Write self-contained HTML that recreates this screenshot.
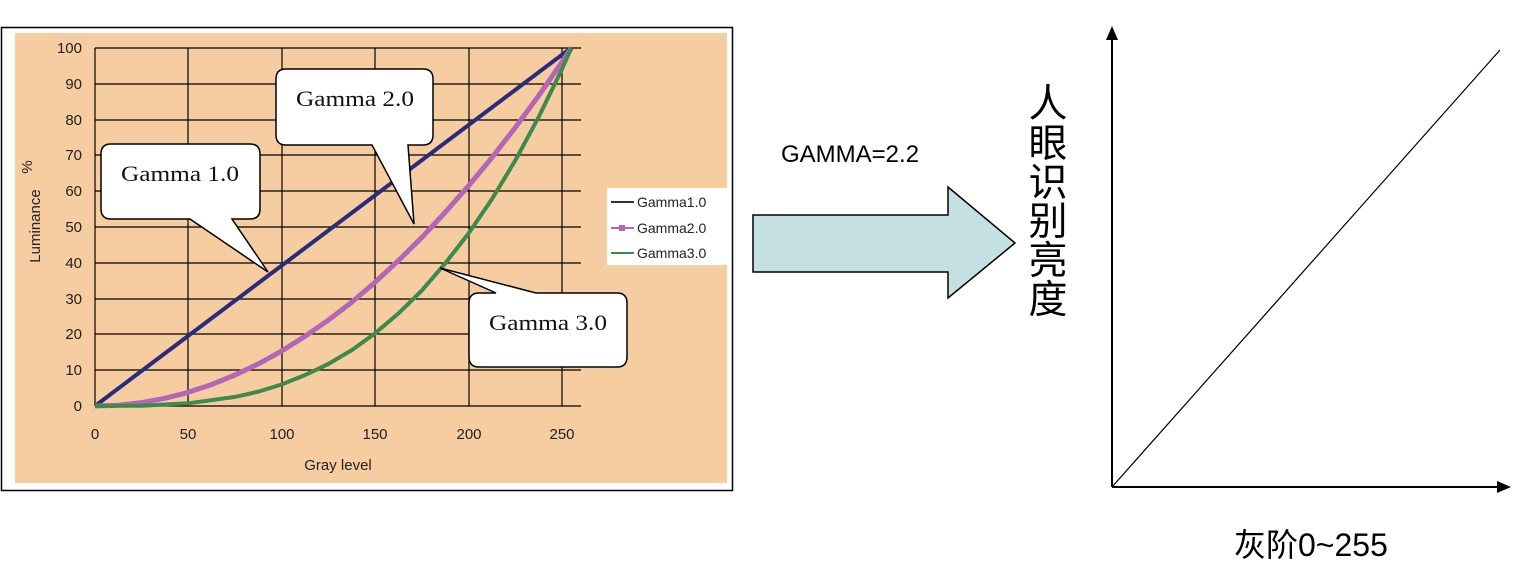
<!DOCTYPE html>
<html><head><meta charset="utf-8"><style>
html,body{margin:0;padding:0;background:#fff;}
svg{display:block;}
</style></head><body>
<svg width="1520" height="572" xmlns="http://www.w3.org/2000/svg">
<rect x="1.5" y="27.5" width="731" height="463" fill="#fff" stroke="#000" stroke-width="1.5"/>
<rect x="15" y="33" width="712" height="450" fill="#f5cda0"/>
<g stroke="#000" stroke-width="1.2">
<line x1="95" y1="48" x2="581" y2="48"/><line x1="95" y1="84" x2="581" y2="84"/><line x1="95" y1="120" x2="581" y2="120"/><line x1="95" y1="155" x2="581" y2="155"/><line x1="95" y1="191" x2="581" y2="191"/><line x1="95" y1="227" x2="581" y2="227"/><line x1="95" y1="263" x2="581" y2="263"/><line x1="95" y1="299" x2="581" y2="299"/><line x1="95" y1="334" x2="581" y2="334"/><line x1="95" y1="370" x2="581" y2="370"/><line x1="95" y1="406" x2="581" y2="406"/>
<line x1="95" y1="48" x2="95" y2="406"/><line x1="188" y1="48" x2="188" y2="406"/><line x1="282" y1="48" x2="282" y2="406"/><line x1="375" y1="48" x2="375" y2="406"/><line x1="469" y1="48" x2="469" y2="406"/><line x1="562" y1="48" x2="562" y2="406"/>
</g>
<g font-family="Liberation Sans, sans-serif" font-size="15" fill="#222" text-anchor="end">
<text x="82" y="53">100</text><text x="82" y="89">90</text><text x="82" y="125">80</text><text x="82" y="160">70</text><text x="82" y="196">60</text><text x="82" y="232">50</text><text x="82" y="268">40</text><text x="82" y="304">30</text><text x="82" y="339">20</text><text x="82" y="375">10</text><text x="82" y="411">0</text>
</g>
<g font-family="Liberation Sans, sans-serif" font-size="15" fill="#222" text-anchor="middle">
<text x="95" y="439">0</text><text x="188" y="439">50</text><text x="282" y="439">100</text><text x="375" y="439">150</text><text x="469" y="439">200</text><text x="562" y="439">250</text>
<text x="338" y="470">Gray level</text>
</g>
<text x="0" y="0" font-family="Liberation Sans, sans-serif" font-size="15" fill="#222" text-anchor="middle" transform="translate(40,226) rotate(-90)">Luminance</text>
<text x="0" y="0" font-family="Liberation Sans, sans-serif" font-size="15" fill="#222" text-anchor="middle" transform="translate(32,167) rotate(-90)">%</text>
<polyline fill="none" stroke="#2b2b7a" stroke-width="4" points="95,406 571,48"/>
<polyline fill="none" stroke="#b565b5" stroke-width="5" stroke-linejoin="round" points="95,406 118,405.2 141.7,402.6 165,398.3 188.4,392.3 211.7,384.5 235.1,375 258.5,363.8 281.8,350.9 305,336.3 328.5,320 352,302 375.2,282.1 398.5,260.5 421.9,237.4 445,212.5 468.6,185.8 492,157.5 515.3,127.5 538.7,95.7 562,62 571.3,48"/>
<polyline fill="none" stroke="#3d8a4a" stroke-width="4" stroke-linejoin="round" points="95,406 141.7,405.7 188.4,403.3 235.1,396.9 258.5,391.6 281.8,384.4 305,375.1 328.5,363.9 352,350 375.2,333.2 398.5,313.4 421.9,290.4 445,263.6 468.6,233.4 492,199 515.3,160.4 538.7,117 562,69.1 571.3,48"/>
<rect x="607" y="188" width="120" height="77" fill="#fff"/>
<g font-family="Liberation Sans, sans-serif" font-size="14" fill="#222">
<line x1="611" y1="202" x2="634" y2="202" stroke="#2b2b7a" stroke-width="2"/><text x="637" y="207">Gamma1.0</text>
<line x1="611" y1="228" x2="634" y2="228" stroke="#b565b5" stroke-width="2"/><rect x="619" y="225" width="6" height="6" fill="#b565b5"/><text x="637" y="233">Gamma2.0</text>
<line x1="611" y1="253" x2="634" y2="253" stroke="#3d8a4a" stroke-width="2"/><text x="637" y="258">Gamma3.0</text>
</g>
<g fill="#fff" stroke="#000" stroke-width="1.5">
<path d="M111,144 H250 Q260,144 260,154 V209 Q260,219 250,219 H232 L268,272 L190,219 H111 Q101,219 101,209 V154 Q101,144 111,144 Z"/>
<path d="M286,69 H423 Q433,69 433,79 V135 Q433,145 423,145 H408 L414,224 L372,145 H286 Q276,145 276,135 V79 Q276,69 286,69 Z"/>
<path d="M479,293 H496 L440,268 L536,293 H617 Q627,293 627,303 V357 Q627,367 617,367 H479 Q469,367 469,357 V303 Q469,293 479,293 Z"/>
</g>
<g font-family="Liberation Serif, serif" font-size="22" fill="#111">
<text x="121" y="181" textLength="118" lengthAdjust="spacingAndGlyphs">Gamma 1.0</text>
<text x="296" y="106" textLength="118" lengthAdjust="spacingAndGlyphs">Gamma 2.0</text>
<text x="489" y="330" textLength="118" lengthAdjust="spacingAndGlyphs">Gamma 3.0</text>
</g>
<text x="781" y="162" font-family="Liberation Sans, sans-serif" font-size="24" fill="#000">GAMMA=2.2</text>
<path d="M753,215 H948 V187 L1015,243 L948,298 V272 H753 Z" fill="#c5e0e2" stroke="#000" stroke-width="1.5"/>
<g font-family="Liberation Sans, 'Noto Sans CJK SC', sans-serif" font-size="39" fill="#000" text-anchor="middle">
<text x="1048" y="117">人</text><text x="1048" y="157">眼</text><text x="1048" y="196">识</text><text x="1048" y="235">别</text><text x="1048" y="274">亮</text><text x="1048" y="313">度</text>
</g>
<line x1="1112" y1="487" x2="1112" y2="38" stroke="#000" stroke-width="2"/>
<polygon points="1112,26 1106,40 1118,40" fill="#000"/>
<line x1="1112" y1="487" x2="1500" y2="487" stroke="#000" stroke-width="2"/>
<polygon points="1511,487 1497,481 1497,493" fill="#000"/>
<line x1="1112" y1="487" x2="1500" y2="50" stroke="#000" stroke-width="1.2"/>
<text x="1234" y="556" font-family="Liberation Sans, 'Noto Sans CJK SC', sans-serif" font-size="32" fill="#000">灰阶0~255</text>
</svg>
</body></html>
